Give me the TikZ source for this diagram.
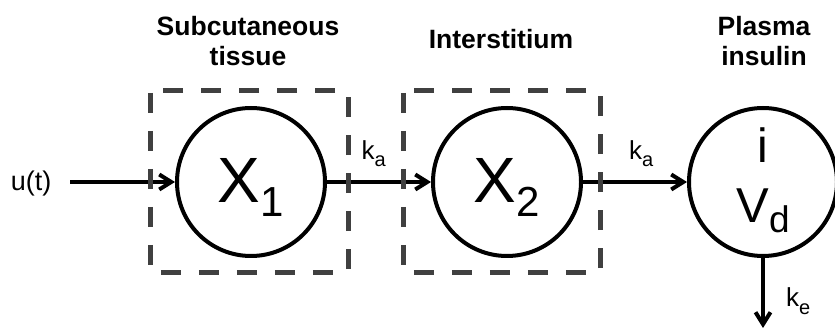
\documentclass[tikz,border=0pt]{standalone}
\usepackage{fontspec}
\setmainfont{Liberation Sans}
\usetikzlibrary{arrows.meta,positioning}
\definecolor{zoneGray}{HTML}{404040}
\newcommand{\fs}[1]{\fontsize{#1}{#1}\selectfont}
\newcommand{\subsc}[3]{\raisebox{-#2}{\fs{#1}#3}}

\begin{document}
\begin{tikzpicture}[
  x=1pt, y=-1pt,
  comp/.style={circle, draw, line width=4pt, minimum size=148pt, inner sep=0pt},
  zone/.style={draw=zoneGray, line width=5pt, dash pattern=on 20pt off 18pt, rounded corners=2pt},
  head/.style={font=\bfseries\fontsize{26.5}{30}\selectfont, align=center, inner sep=0pt},
  rate/.style={font=\fs{26}, inner sep=0pt},
  flow/.style={-{Straight Barb[length=12pt,width=15pt]}, line width=4pt}
]
\useasboundingbox (0,0) rectangle (835,328);

% compartments
\node[comp, font=\fs{64}, text height=42pt, text depth=0pt] (x1) at (251,182) {X\subsc{42}{14pt}{1}};
\node[comp, font=\fs{64}, text height=42pt, text depth=0pt] (x2) at (507,182) {X\subsc{42}{14pt}{2}};
\node[comp] (pl) at (763,182) {};
\node[font=\fs{48}, anchor=base, inner sep=0pt] (plI) at (763,163) {i};
\node[font=\fs{49}, anchor=base, inner sep=0pt] (plV) at (763,223) {V\subsc{37}{10pt}{d}};

% headings
\node[head, anchor=north] (hsub) at (248,15.7) {Subcutaneous\\tissue};
\node[head, anchor=base] (hint) at (501,49) {Interstitium};
\node[head, anchor=north] (hpl) at (764,15.7) {Plasma\\insulin};

% input and flows
\node[font=\fs{27}, inner sep=0pt] (u) at (31,184) {u(t)};
\coordinate (in) at (70,182);
\coordinate (out) at (763,328);
\draw[flow] (in) -- (x1);
\draw[flow] (x1) -- node[rate, pos=.45, above=13pt] {k\subsc{20}{7pt}{a}} (x2);
\draw[flow] (x2) -- node[rate, pos=.56, above=13pt] {k\subsc{20}{7pt}{a}} (pl);
\draw[flow] (pl) -- node[rate, pos=.62, right=21pt] {k\subsc{20}{8pt}{e}} (out);

% tissue boxes
\draw[zone] (150,91) rectangle (348,273);
\draw[zone] (403,91) rectangle (600,273);
\end{tikzpicture}
\end{document}
